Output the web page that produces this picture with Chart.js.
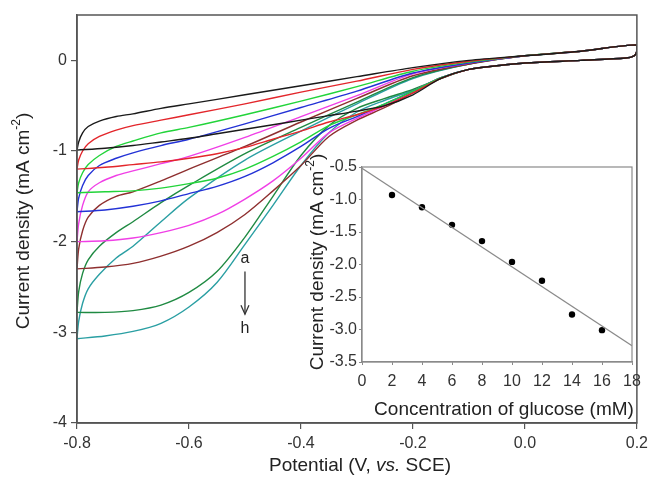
<!DOCTYPE html>
<html><head><meta charset="utf-8">
<script src="https://cdn.jsdelivr.net/npm/chart.js@4.4.1/dist/chart.umd.min.js"></script>
<style>
html,body{margin:0;padding:0;background:#fff;}
#wrap{position:relative;width:653px;height:490px;}
#main{position:absolute;left:0;top:0;}
#inset{position:absolute;left:295px;top:150px;}
</style></head>
<body>
<div id="wrap">
<canvas id="main" width="653" height="490"></canvas>
<canvas id="inset" width="358" height="280"></canvas>
</div>
<script>
// ---------- main chart data (potential V vs SCE, current density mA cm^-2) ----------
const curveLabels = ['a','b','c','d','e','f','g','h'];
const curveColors = ['#1a1a1a','#e3262b','#22d43a','#2332d6','#f03fe6','#8e2f2f','#1f8a42','#2a9fa3'];
// return sweep (upper branch), from -0.8 to 0.2 V
const potentialUpper = [-0.8,-0.797,-0.79,-0.78,-0.76,-0.73,-0.7,-0.65,-0.6,-0.5,-0.4,-0.3,-0.2,-0.1,0,0.1,0.2];
const upperA = [-0.99,-0.9,-0.8,-0.73,-0.67,-0.62,-0.59,-0.53,-0.48,-0.38,-0.28,-0.18,-0.08,0.0,0.05,0.1,0.17];
const upperB = [-1.2,-1.1,-1.0,-0.92,-0.84,-0.77,-0.72,-0.66,-0.6,-0.48,-0.35,-0.23,-0.1,-0.01,0.05,0.1,0.17];
const upperC = [-1.46,-1.35,-1.24,-1.15,-1.05,-0.95,-0.89,-0.8,-0.74,-0.6,-0.45,-0.29,-0.12,-0.02,0.05,0.1,0.17];
const upperD = [-1.67,-1.52,-1.38,-1.27,-1.16,-1.08,-1.02,-0.94,-0.87,-0.7,-0.52,-0.34,-0.14,-0.03,0.05,0.1,0.17];
const upperE = [-2.0,-1.8,-1.6,-1.45,-1.35,-1.27,-1.22,-1.14,-1.06,-0.85,-0.62,-0.39,-0.15,-0.03,0.05,0.1,0.17];
const upperF = [-2.3,-2.08,-1.88,-1.73,-1.6,-1.5,-1.45,-1.33,-1.2,-0.95,-0.68,-0.42,-0.17,-0.04,0.05,0.1,0.17];
const upperG = [-2.78,-2.55,-2.35,-2.2,-2.05,-1.9,-1.78,-1.57,-1.38,-1.03,-0.74,-0.46,-0.19,-0.04,0.05,0.1,0.17];
const upperH = [-3.07,-2.88,-2.68,-2.52,-2.36,-2.18,-2.05,-1.78,-1.52,-1.1,-0.78,-0.48,-0.2,-0.04,0.05,0.1,0.17];
// forward sweep (lower branch), from 0.2 back to -0.8 V
const potentialLower = [0.2,0.195,0.18,0.1,0,-0.05,-0.1,-0.15,-0.2,-0.25,-0.3,-0.35,-0.4,-0.45,-0.5,-0.55,-0.6,-0.65,-0.7,-0.75,-0.8];
const lowerA = [0.1,0.05,0.025,0.0,-0.03,-0.06,-0.1,-0.2,-0.38,-0.5,-0.56,-0.61,-0.66,-0.71,-0.76,-0.81,-0.86,-0.9,-0.94,-0.97,-0.99];
const lowerB = [0.1,0.05,0.025,0.0,-0.03,-0.06,-0.1,-0.2,-0.36,-0.5,-0.6,-0.68,-0.78,-0.87,-0.96,-1.03,-1.08,-1.12,-1.15,-1.18,-1.2];
const lowerC = [0.1,0.05,0.025,0.0,-0.03,-0.06,-0.1,-0.19,-0.34,-0.48,-0.6,-0.72,-0.9,-1.06,-1.2,-1.3,-1.36,-1.41,-1.44,-1.45,-1.46];
const lowerD = [0.1,0.05,0.025,0.0,-0.03,-0.06,-0.1,-0.19,-0.34,-0.48,-0.62,-0.75,-0.95,-1.13,-1.28,-1.39,-1.47,-1.55,-1.61,-1.65,-1.67];
const lowerE = [0.1,0.05,0.025,0.0,-0.03,-0.06,-0.1,-0.19,-0.34,-0.5,-0.64,-0.8,-1.08,-1.33,-1.53,-1.7,-1.82,-1.9,-1.96,-1.99,-2.0];
const lowerF = [0.1,0.05,0.025,0.0,-0.03,-0.06,-0.1,-0.2,-0.36,-0.52,-0.66,-0.84,-1.16,-1.44,-1.7,-1.9,-2.05,-2.16,-2.24,-2.28,-2.3];
const lowerG = [0.1,0.05,0.025,0.0,-0.03,-0.06,-0.1,-0.2,-0.32,-0.42,-0.53,-0.72,-1.05,-1.5,-1.95,-2.33,-2.56,-2.7,-2.76,-2.78,-2.78];
const lowerH = [0.1,0.05,0.025,0.0,-0.03,-0.06,-0.1,-0.2,-0.33,-0.44,-0.57,-0.8,-1.16,-1.6,-2.03,-2.45,-2.72,-2.9,-2.99,-3.04,-3.07];
const xTicksMain = [-0.8,-0.6,-0.4,-0.2,0.0,0.2];
const yTicksMain = [0,-1,-2,-3,-4];

// ---------- inset data ----------
const glucoseConc = [2,4,6,8,10,12,14,16];
const peakCurrent = [-0.93,-1.12,-1.39,-1.64,-1.96,-2.25,-2.77,-3.01];
const fitX = [0,18];
const fitY = [-0.52,-3.25];
const xTicksInset = [0,2,4,6,8,10,12,14,16,18];
const yTicksInset = [-0.5,-1.0,-1.5,-2.0,-2.5,-3.0,-3.5];

const uppers = [upperA,upperB,upperC,upperD,upperE,upperF,upperG,upperH];
const lowers = [lowerA,lowerB,lowerC,lowerD,lowerE,lowerF,lowerG,lowerH];

const FONT = "'Liberation Sans', Arial, sans-serif";
Chart.defaults.font.family = FONT;
Chart.defaults.color = '#333';

const mainDatasets = curveLabels.map((lab,i)=>{
  const pts = potentialUpper.map((v,k)=>({x:v,y:uppers[i][k]}))
    .concat(potentialLower.map((v,k)=>({x:v,y:lowers[i][k]})));
  return {label:lab,data:pts,showLine:true,borderColor:curveColors[i],borderWidth:1.4,
    pointRadius:0,tension:0.3,fill:false};
});

function drawTitleWithSup(ctx, pre, sup, post, size){
  ctx.font = size+"px "+FONT;
  const w1 = ctx.measureText(pre).width;
  const w3 = ctx.measureText(post).width;
  ctx.font = Math.round(size*0.62)+"px "+FONT;
  const w2 = ctx.measureText(sup).width;
  const total = w1+w2+w3;
  let x = -total/2;
  ctx.textAlign='left'; ctx.textBaseline='middle';
  ctx.font = size+"px "+FONT; ctx.fillText(pre,x,0); x+=w1;
  ctx.font = Math.round(size*0.62)+"px "+FONT; ctx.fillText(sup,x,-size*0.38); x+=w2;
  ctx.font = size+"px "+FONT; ctx.fillText(post,x,0);
}

const mainDeco = {
  id:'mainDeco',
  afterDraw(chart){
    const {ctx,chartArea:ca,scales} = chart;
    ctx.save();
    ctx.strokeStyle='#555'; ctx.lineWidth=1.5;
    ctx.strokeRect(ca.left,ca.top,ca.right-ca.left,ca.bottom-ca.top);
    ctx.fillStyle='#222';
    // y title
    ctx.save(); ctx.translate(24,221); ctx.rotate(-Math.PI/2);
    drawTitleWithSup(ctx,'Current density (mA cm','-2',')',19);
    ctx.restore();
    // x title with italic vs.
    const s=19; const parts=[['Potential (V, ',''],['vs.','italic '],[' SCE)','']];
    let tw=0; parts.forEach(p=>{ctx.font=p[1]+s+"px "+FONT; tw+=ctx.measureText(p[0]).width;});
    let x=360 - tw/2; const y=466;
    ctx.textAlign='left'; ctx.textBaseline='middle';
    parts.forEach(p=>{ctx.font=p[1]+s+"px "+FONT; ctx.fillText(p[0],x,y); x+=ctx.measureText(p[0]).width;});
    // a -> h annotation
    const xs=scales.x.getPixelForValue(-0.5);
    ctx.font="16px "+FONT; ctx.textAlign='center';
    ctx.fillText('a',xs,scales.y.getPixelForValue(-2.19));
    ctx.fillText('h',xs,scales.y.getPixelForValue(-2.96));
    const y1=scales.y.getPixelForValue(-2.33), y2=scales.y.getPixelForValue(-2.8);
    ctx.strokeStyle='#333'; ctx.lineWidth=1.3;
    ctx.beginPath(); ctx.moveTo(xs,y1); ctx.lineTo(xs,y2); ctx.stroke();
    ctx.beginPath(); ctx.moveTo(xs-4,y2-9); ctx.lineTo(xs,y2); ctx.lineTo(xs+4,y2-9); ctx.stroke();
    ctx.restore();
  }
};

new Chart(document.getElementById('main'),{
  type:'scatter',
  data:{datasets:mainDatasets},
  options:{
    responsive:false,animation:false,devicePixelRatio:1,
    layout:{padding:{left:0,top:15,right:12,bottom:0}},
    plugins:{legend:{display:false},tooltip:{enabled:false}},
    scales:{
      x:{type:'linear',min:-0.8,max:0.2,
        afterBuildTicks:(s)=>{s.ticks=xTicksMain.map(v=>({value:v}));},
        afterFit:(s)=>{s.height=67;},
        grid:{drawOnChartArea:false,tickLength:6,color:'#555',lineWidth:1.2},
        border:{color:'#555',width:1.5},
        ticks:{font:{size:16},color:'#333',padding:5,maxRotation:0,
          callback:(v)=>Number(v).toFixed(1)}},
      y:{type:'linear',min:-4,max:0.5,
        afterBuildTicks:(s)=>{s.ticks=yTicksMain.map(v=>({value:v}));},
        afterFit:(s)=>{s.width=77;},
        grid:{drawOnChartArea:false,tickLength:6,color:'#555',lineWidth:1.2},
        border:{color:'#555',width:1.5},
        ticks:{font:{size:16},color:'#333',padding:4,callback:(v)=>String(v)}}
    }
  },
  plugins:[mainDeco]
});

const insetDeco = {
  id:'insetDeco',
  afterDraw(chart){
    const {ctx,chartArea:ca} = chart;
    ctx.save();
    ctx.strokeStyle='#8a8a8a'; ctx.lineWidth=1.2;
    ctx.strokeRect(ca.left,ca.top,ca.right-ca.left,ca.bottom-ca.top);
    ctx.fillStyle='#222';
    ctx.save(); ctx.translate(23,112); ctx.rotate(-Math.PI/2);
    drawTitleWithSup(ctx,'Current density (mA cm','-2',')',19);
    ctx.restore();
    ctx.font="19px "+FONT; ctx.textAlign='center'; ctx.textBaseline='middle';
    ctx.fillText('Concentration of glucose (mM)',209,260);
    ctx.restore();
  }
};

new Chart(document.getElementById('inset'),{
  type:'scatter',
  data:{datasets:[
    {label:'fit',data:fitX.map((v,i)=>({x:v,y:fitY[i]})),showLine:true,borderColor:'#8a8a8a',
      borderWidth:1.2,pointRadius:0},
    {label:'data',data:glucoseConc.map((v,i)=>({x:v,y:peakCurrent[i]})),showLine:false,
      pointRadius:3.2,pointBackgroundColor:'#000',pointBorderColor:'#000',pointBorderWidth:0}
  ]},
  options:{
    responsive:false,animation:false,devicePixelRatio:1,
    layout:{padding:{left:0,top:17,right:21,bottom:0}},
    plugins:{legend:{display:false},tooltip:{enabled:false}},
    scales:{
      x:{type:'linear',min:0,max:18,
        afterBuildTicks:(s)=>{s.ticks=xTicksInset.map(v=>({value:v}));},
        afterFit:(s)=>{s.height=68;},
        grid:{drawOnChartArea:false,tickLength:3,color:'#8a8a8a'},
        border:{color:'#8a8a8a',width:1.2},
        ticks:{font:{size:16},color:'#333',padding:7,maxRotation:0}},
      y:{type:'linear',min:-3.5,max:-0.5,
        afterBuildTicks:(s)=>{s.ticks=yTicksInset.map(v=>({value:v}));},
        afterFit:(s)=>{s.width=67;},
        grid:{drawOnChartArea:false,tickLength:3,color:'#8a8a8a'},
        border:{color:'#8a8a8a',width:1.2},
        ticks:{font:{size:16},color:'#333',padding:2,callback:(v)=>Number(v).toFixed(1)}}
    }
  },
  plugins:[insetDeco]
});
</script>
</body></html>
